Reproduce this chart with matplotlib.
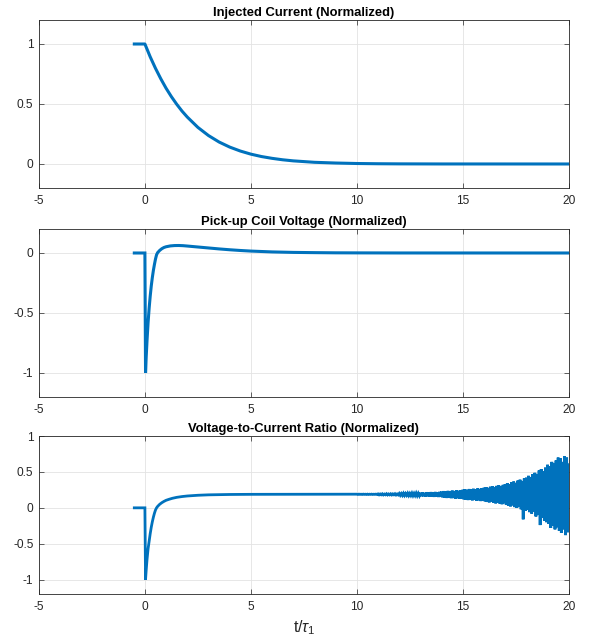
import numpy as np
import matplotlib
matplotlib.use('Agg')
import matplotlib.pyplot as plt

plt.rcParams['font.family'] = ['Liberation Sans', 'DejaVu Sans']
plt.rcParams['axes.unicode_minus'] = False
plt.rcParams['mathtext.fontset'] = 'custom'
plt.rcParams['mathtext.rm'] = 'Liberation Sans'
plt.rcParams['mathtext.it'] = 'Liberation Sans:italic'

# Datos (t en unidades de tau_1)
t_corriente = [-0.5, 0.0, 0.25, 0.5, 0.75, 1.0, 1.25, 1.5, 1.75, 2.0, 2.5, 3.0, 3.5,
               4.0, 4.5, 5.0, 5.5, 6.0, 6.5, 7.0, 8.0, 9.0, 10.0, 11.0, 12.0, 14.0, 20.0]
corriente = [1.0, 1.0, 0.893, 0.797, 0.710, 0.631, 0.561, 0.498, 0.441, 0.391, 0.305, 0.237, 0.183,
             0.141, 0.108, 0.082, 0.062, 0.047, 0.035, 0.026, 0.014, 0.008, 0.004, 0.002, 0.001,
             0.0002, 0.0]

t_voltaje = [-0.5, 0.0, 0.03, 0.06, 0.1, 0.15, 0.2, 0.25, 0.3, 0.35, 0.4, 0.45, 0.5, 0.55,
             0.6, 0.7, 0.8, 0.9, 1.0, 1.2, 1.4, 1.6, 1.8, 2.0, 2.5, 3.0, 3.5, 4.0, 4.5, 5.0,
             6.0, 7.0, 8.0, 9.0, 10.0, 12.0, 20.0]
voltaje = [0.0, 0.0, -1.0, -0.87, -0.73, -0.58, -0.46, -0.36, -0.275, -0.205, -0.145, -0.095,
           -0.05, -0.015, 0.003, 0.022, 0.036, 0.046, 0.052, 0.059, 0.062, 0.0625, 0.061, 0.058,
           0.050, 0.042, 0.034, 0.027, 0.021, 0.016, 0.009, 0.005, 0.003, 0.0015, 0.001, 0.0003, 0.0]

t_cociente = [-0.5, 0.0, 0.03, 0.06, 0.1, 0.15, 0.2, 0.25, 0.3, 0.35, 0.4, 0.45, 0.5, 0.55,
              0.6, 0.7, 0.8, 0.9, 1.0, 1.15, 1.3, 1.5, 1.75, 2.0, 2.5, 3.0, 3.5, 4.0, 5.0,
              7.0, 9.95]
cociente = [0.0, 0.0, -1.0, -0.87, -0.72, -0.57, -0.46, -0.36, -0.27, -0.195, -0.13, -0.075,
            -0.03, 0.0, 0.02, 0.05, 0.072, 0.09, 0.105, 0.12, 0.133, 0.146, 0.157, 0.165,
            0.175, 0.181, 0.184, 0.186, 0.188, 0.189, 0.189]

# tramo ruidoso del cociente, de t=10 a t=20 cada 0.05
cociente_ruido = [
    0.190, 0.186, 0.191, 0.187, 0.190, 0.186, 0.191, 0.187, 0.190, 0.186,
    0.191, 0.186, 0.190, 0.187, 0.191, 0.186, 0.190, 0.187, 0.191, 0.186,
    0.194, 0.181, 0.193, 0.182, 0.195, 0.180, 0.192, 0.182, 0.196, 0.180,
    0.193, 0.181, 0.195, 0.180, 0.194, 0.182, 0.196, 0.179, 0.193, 0.180,
    0.200, 0.174, 0.198, 0.173, 0.202, 0.172, 0.199, 0.174, 0.203, 0.171,
    0.200, 0.172, 0.204, 0.170, 0.201, 0.171, 0.205, 0.169, 0.202, 0.170,
    0.210, 0.162, 0.214, 0.160, 0.208, 0.158, 0.216, 0.161, 0.212, 0.156,
    0.218, 0.158, 0.213, 0.154, 0.220, 0.156, 0.216, 0.152, 0.222, 0.154,
    0.226, 0.146, 0.232, 0.140, 0.228, 0.138, 0.236, 0.142, 0.230, 0.134,
    0.240, 0.137, 0.234, 0.130, 0.242, 0.133, 0.238, 0.128, 0.246, 0.126,
    0.252, 0.118, 0.258, 0.112, 0.250, 0.108, 0.262, 0.115, 0.256, 0.104,
    0.266, 0.110, 0.260, 0.098, 0.270, 0.104, 0.264, 0.094, 0.274, 0.100,
    0.280, 0.090, 0.286, 0.082, 0.278, 0.076, 0.294, 0.085, 0.300, 0.070,
    0.290, 0.062, 0.306, 0.074, 0.312, 0.058, 0.298, 0.050, 0.320, 0.064,
    0.330, 0.040, 0.342, 0.028, 0.326, 0.020, 0.356, 0.034, 0.366, 0.010,
    0.348, -0.002, 0.380, 0.016, 0.392, -0.020, 0.374, -0.160, 0.410, -0.040,
    0.420, -0.030, 0.446, -0.060, 0.430, -0.080, 0.470, -0.050, 0.488, -0.120,
    0.462, -0.100, 0.520, -0.240, 0.540, -0.140, 0.508, -0.180, 0.560, -0.200,
    0.600, -0.220, 0.580, -0.280, 0.640, -0.250, 0.620, -0.300, 0.660, -0.270,
    0.700, -0.320, 0.690, -0.350, 0.640, -0.300, 0.720, -0.380, 0.700, -0.340,
    0.600,
]
t_ruido = np.linspace(10.0, 20.0, len(cociente_ruido))

titulos = ['Injected Current (Normalized)',
           'Pick-up Coil Voltage (Normalized)',
           'Voltage-to-Current Ratio (Normalized)']
x_ticks = [-5, 0, 5, 10, 15, 20]
y_ticks = [[0, 0.5, 1], [-1, -0.5, 0], [-1, -0.5, 0, 0.5, 1]]
y_etiquetas = [['0', '0.5', '1'], ['-1', '-0.5', '0'], ['-1', '-0.5', '0', '0.5', '1']]
y_limites = [(-0.2, 1.2), (-1.2, 0.2), (-1.2, 1.0)]

AZUL = '#0072BD'
GRIS = '#262626'

fig = plt.figure(figsize=(5.9, 6.37), dpi=100)
posiciones = [[0.066, 0.7049, 0.898, 0.2637],
              [0.066, 0.3768, 0.898, 0.2637],
              [0.066, 0.0675, 0.898, 0.2480]]
ejes = [fig.add_axes(p) for p in posiciones]

ejes[0].plot(t_corriente, corriente, color=AZUL, lw=2.2)
ejes[1].plot(t_voltaje, voltaje, color=AZUL, lw=2.2, solid_joinstyle='miter')
ejes[2].plot(list(t_cociente) + list(t_ruido), list(cociente) + list(cociente_ruido),
             color=AZUL, lw=2.0, solid_joinstyle='miter')

for i, ax in enumerate(ejes):
    ax.set_xlim(-5, 20)
    ax.set_ylim(*y_limites[i])
    ax.set_xticks(x_ticks)
    ax.set_xticklabels([str(v) for v in x_ticks])
    ax.set_yticks(y_ticks[i])
    ax.set_yticklabels(y_etiquetas[i])
    ax.grid(True, color='#e3e3e3', lw=0.6)
    ax.set_axisbelow(True)
    ax.tick_params(direction='in', length=3.5, width=0.5, colors=GRIS,
                   labelsize=8.6, top=True, right=True, pad=5)
    ax.tick_params(axis='y', pad=4)
    for s in ax.spines.values():
        s.set_color(GRIS)
        s.set_linewidth(0.6)
    ax.set_title(titulos[i], fontsize=9.4, fontweight='bold', pad=3, color='black')

ejes[2].set_xlabel(r't/$\tau_1$', fontsize=11.5, color=GRIS, labelpad=4)

fig.savefig('out.png', dpi=100)
plt.close(fig)
